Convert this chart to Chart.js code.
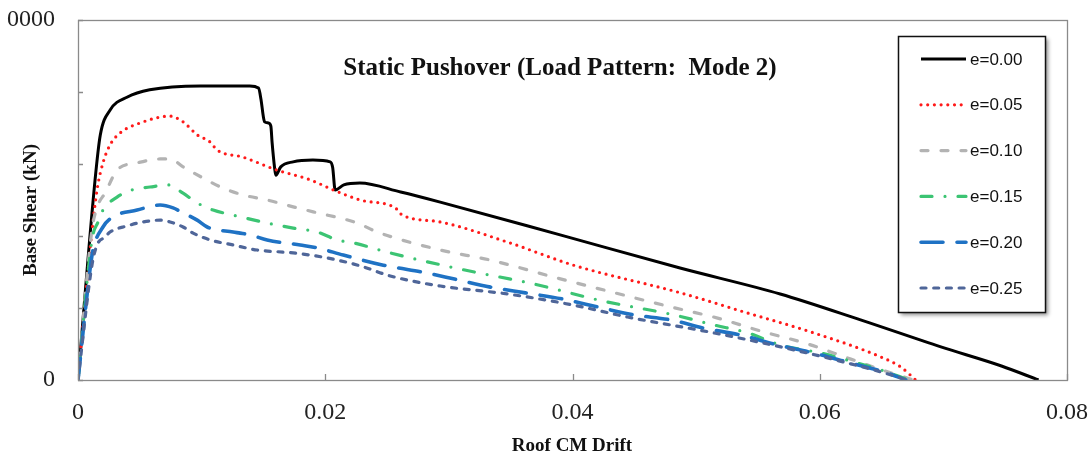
<!DOCTYPE html>
<html>
<head>
<meta charset="utf-8">
<script src="https://cdn.jsdelivr.net/npm/chart.js@4.4.1/dist/chart.umd.min.js"></script>
<style>
  html, body { margin: 0; padding: 0; background: #ffffff; }
  #wrap { width: 1089px; height: 461px; position: relative; }
</style>
</head>
<body>
<div id="wrap"><canvas id="c" width="1089" height="461"></canvas></div>
<script>
// ---------------- DATA ----------------
const chartTitle = "Static Pushover (Load Pattern:  Mode 2)";
const xAxisTitle = "Roof CM Drift";
const yAxisTitle = "Base Shear (kN)";
const seriesLabels = ["e=0.00", "e=0.05", "e=0.10", "e=0.15", "e=0.20", "e=0.25"];
const xTickLabels = ["0", "0.02", "0.04", "0.06", "0.08"];
const yTickLabels = ["0", "", "", "", "", "0000"];

const drift_e000 = [0, 0.00138, 0.0018, 0.0026, 0.004, 0.0058, 0.0099, 0.0139, 0.0146, 0.0148, 0.015, 0.0151, 0.0154, 0.0156, 0.0157, 0.0159, 0.016, 0.0164, 0.0174, 0.019, 0.0204, 0.0206, 0.0208, 0.0215, 0.0228, 0.0261, 0.0293, 0.039, 0.0487, 0.0568, 0.0633, 0.0698, 0.0747, 0.0777];
const shear_e000 = [0, 5560, 6800, 7500, 7860, 8060, 8170, 8170, 8110, 7800, 7300, 7170, 7140, 7050, 6600, 5900, 5690, 5920, 6060, 6110, 6060, 5900, 5280, 5420, 5470, 5220, 4940, 4030, 3110, 2390, 1670, 920, 390, 0];

const drift_e005 = [0, 0.00097, 0.00154, 0.00202, 0.00259, 0.0034, 0.00502, 0.00745, 0.0085, 0.00964, 0.01069, 0.01125, 0.01336, 0.01611, 0.01879, 0.02065, 0.02283, 0.02567, 0.02624, 0.02931, 0.03475, 0.04008, 0.04875, 0.05417, 0.05951, 0.06494, 0.06656, 0.06777];
const shear_e005 = [0, 3610, 5280, 6030, 6530, 6860, 7140, 7330, 7170, 6810, 6610, 6390, 6190, 5830, 5560, 5280, 5000, 4780, 4580, 4390, 3830, 3190, 2420, 1860, 1310, 640, 360, 0];

const drift_e010 = [0, 0.00113, 0.00162, 0.00219, 0.00316, 0.00478, 0.00664, 0.00745, 0.0085, 0.01012, 0.01174, 0.01336, 0.0153, 0.01741, 0.01903, 0.02259, 0.02421, 0.02931, 0.03336, 0.03879, 0.04413, 0.04794, 0.05174, 0.05522, 0.05903, 0.06251, 0.06599, 0.06761];
const shear_e010 = [0, 4170, 4860, 5190, 5830, 6030, 6140, 6140, 5920, 5610, 5330, 5140, 5000, 4810, 4670, 4360, 4110, 3610, 3330, 2830, 2360, 2030, 1720, 1360, 1000, 580, 170, 0];

const drift_e015 = [0, 0.00113, 0.00162, 0.00202, 0.00316, 0.00437, 0.00583, 0.00729, 0.0085, 0.00964, 0.01093, 0.01255, 0.0153, 0.01741, 0.01935, 0.02097, 0.02227, 0.02526, 0.03093, 0.03684, 0.04251, 0.04818, 0.05142, 0.05417, 0.05684, 0.06008, 0.06275, 0.06494, 0.06721];
const shear_e015 = [0, 3890, 4390, 4720, 5080, 5280, 5360, 5420, 5190, 4920, 4720, 4580, 4360, 4220, 4110, 3890, 3810, 3530, 3080, 2670, 2190, 1810, 1530, 1310, 970, 750, 500, 280, 0];

const drift_e020 = [0, 0.00097, 0.00121, 0.00202, 0.00283, 0.00478, 0.00664, 0.00769, 0.0085, 0.00964, 0.01045, 0.01255, 0.01312, 0.01393, 0.0153, 0.01798, 0.01935, 0.02146, 0.0247, 0.02826, 0.03036, 0.03336, 0.03619, 0.03919, 0.04202, 0.04494, 0.04794, 0.05061, 0.0536, 0.0566, 0.05951, 0.06251, 0.06551, 0.06696];
const shear_e020 = [0, 3060, 3610, 4250, 4530, 4720, 4860, 4780, 4640, 4440, 4250, 4110, 4080, 4030, 3890, 3750, 3670, 3470, 3190, 2970, 2810, 2580, 2420, 2250, 2030, 1810, 1670, 1440, 1250, 970, 750, 470, 190, 0];

const drift_e025 = [0, 0.00113, 0.00154, 0.00219, 0.00259, 0.00397, 0.00526, 0.00664, 0.00745, 0.0085, 0.00931, 0.01069, 0.01255, 0.01449, 0.01741, 0.02016, 0.02283, 0.02526, 0.02931, 0.03474, 0.04008, 0.04445, 0.05142, 0.05684, 0.06227, 0.06632, 0.06696];
const shear_e025 = [0, 3190, 3750, 3970, 4110, 4280, 4390, 4440, 4390, 4250, 4080, 3890, 3750, 3610, 3530, 3390, 3170, 2890, 2610, 2390, 2080, 1750, 1310, 920, 470, 80, 0];

// ---------------- STYLES ----------------
const seriesStyles = [
  { color: '#000000', width: 3,   dash: [],              cap: 'butt'  },
  { color: '#ff1a1a', width: 3.2, dash: [0, 6.7],        cap: 'round' },
  { color: '#b3b3b3', width: 3.2, dash: [7, 13],         cap: 'round' },
  { color: '#3cc473', width: 3.2, dash: [11, 13, 0, 13], cap: 'round' },
  { color: '#1f72c4', width: 3.6, dash: [22, 14],        cap: 'round' },
  { color: '#4f6699', width: 3.2, dash: [5, 7.7],        cap: 'round' }
];

const xs = [drift_e000, drift_e005, drift_e010, drift_e015, drift_e020, drift_e025];
const ys = [shear_e000, shear_e005, shear_e010, shear_e015, shear_e020, shear_e025];

const datasets = seriesLabels.map((lab, k) => ({
  label: lab,
  data: xs[k].map((x, i) => ({ x: x, y: ys[k][i] })),
  showLine: true,
  borderColor: seriesStyles[k].color,
  backgroundColor: seriesStyles[k].color,
  borderWidth: seriesStyles[k].width,
  borderDash: seriesStyles[k].dash,
  borderCapStyle: seriesStyles[k].cap,
  borderJoinStyle: 'round',
  pointRadius: 0,
  fill: false,
  cubicInterpolationMode: 'monotone'
})).reverse();

const decor = {
  id: 'decor',
  beforeDraw(chart) {
    const c = chart.ctx;
    c.save();
    c.fillStyle = '#ffffff';
    c.fillRect(0, 0, chart.width, chart.height);
    c.restore();
  },
  afterDraw(chart) {
    const c = chart.ctx;
    const a = chart.chartArea;
    const xS = chart.scales.x, yS = chart.scales.y;
    c.save();
    // frame
    c.strokeStyle = '#8a8a8a';
    c.lineWidth = 1.3;
    c.strokeRect(a.left + 0.5, a.top + 0.5, a.right - a.left, a.bottom - a.top);
    // inside tick marks
    c.beginPath();
    yS.ticks.forEach(t => {
      const py = Math.round(yS.getPixelForValue(t.value)) + 0.5;
      c.moveTo(a.left, py); c.lineTo(a.left + 5, py);
    });
    xS.ticks.forEach(t => {
      const px = Math.round(xS.getPixelForValue(t.value)) + 0.5;
      c.moveTo(px, a.bottom); c.lineTo(px, a.bottom - 6);
    });
    c.stroke();

    // title
    c.fillStyle = '#111111';
    c.font = 'bold 25px "Liberation Serif", "Times New Roman", serif';
    c.textAlign = 'center';
    c.textBaseline = 'alphabetic';
    c.fillText(chartTitle, 560, 75);

    // axis titles
    c.font = 'bold 19px "Liberation Serif", "Times New Roman", serif';
    c.textBaseline = 'middle';
    c.fillText(xAxisTitle, 572, 446);
    c.save();
    c.translate(31, 210);
    c.rotate(-Math.PI / 2);
    c.fillText(yAxisTitle, 0, 0);
    c.restore();

    // legend box
    const bx = 898, by = 36, bw = 147, bh = 276;
    c.save();
    c.shadowColor = 'rgba(0,0,0,0.45)';
    c.shadowBlur = 4;
    c.shadowOffsetX = 3;
    c.shadowOffsetY = 3;
    c.fillStyle = '#ffffff';
    c.fillRect(bx, by, bw, bh);
    c.restore();
    c.strokeStyle = '#111111';
    c.lineWidth = 1.5;
    c.strokeRect(bx + 0.5, by + 0.5, bw, bh);

    c.font = '17px "Liberation Sans", Arial, sans-serif';
    c.textAlign = 'left';
    c.textBaseline = 'middle';
    seriesLabels.forEach((lab, k) => {
      const ry = 59 + k * 45.8;
      const st = seriesStyles[k];
      c.save();
      c.strokeStyle = st.color;
      c.lineWidth = st.width;
      c.lineCap = st.cap;
      c.setLineDash(st.dash);
      c.beginPath();
      c.moveTo(921, ry);
      c.lineTo(966, ry);
      c.stroke();
      c.restore();
      c.fillStyle = '#111111';
      c.fillText(lab, 970, ry + 1);
    });
    c.restore();
  }
};

function zeroPad(s) {
  s.paddingTop = 0; s.paddingBottom = 0; s.paddingLeft = 0; s.paddingRight = 0;
}

new Chart(document.getElementById('c').getContext('2d'), {
  type: 'scatter',
  data: { datasets: datasets },
  options: {
    responsive: false,
    animation: false,
    devicePixelRatio: 1,
    layout: { padding: { top: 20, right: 22, left: 0, bottom: 0 } },
    plugins: { legend: { display: false }, tooltip: { enabled: false } },
    scales: {
      x: {
        type: 'linear', min: 0, max: 0.08,
        afterFit: s => { s.height = 81; zeroPad(s); },
        border: { display: false },
        grid: { display: false, drawTicks: false },
        ticks: {
          stepSize: 0.02, autoSkip: false, maxRotation: 0, padding: 18,
          color: '#222222',
          font: { family: '"Liberation Serif", "Times New Roman", serif', size: 24 },
          callback: (v, i) => xTickLabels[i]
        }
      },
      y: {
        type: 'linear', min: 0, max: 10000,
        afterFit: s => { s.width = 78; zeroPad(s); },
        border: { display: false },
        grid: { display: false, drawTicks: false },
        ticks: {
          stepSize: 2000, autoSkip: false, padding: 23,
          color: '#222222',
          font: { family: '"Liberation Serif", "Times New Roman", serif', size: 24 },
          callback: (v, i) => yTickLabels[i]
        }
      }
    }
  },
  plugins: [decor]
});
</script>
</body>
</html>
